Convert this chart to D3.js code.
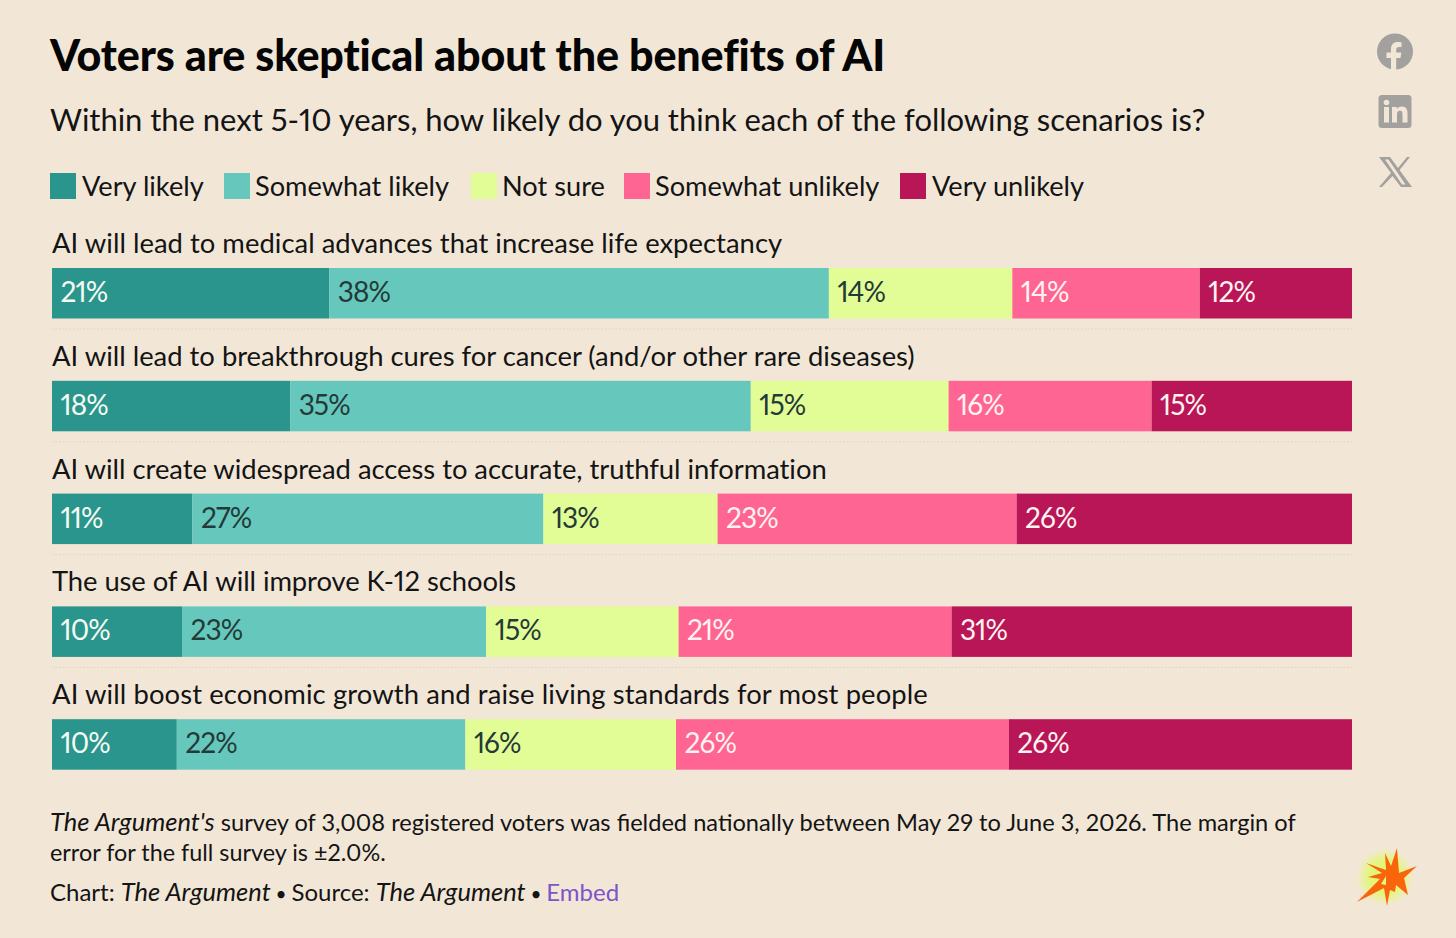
<!DOCTYPE html>
<html><head><meta charset="utf-8">
<script src="https://cdn.jsdelivr.net/npm/d3@7"></script>
<style>
html,body{margin:0;padding:0;background:#f2e7d7;overflow:hidden}
text{font-family:Lato,sans-serif;fill:#141414;font-variant-numeric:proportional-nums;font-feature-settings:"pnum" 1}
</style></head><body><svg id="c" width="1456" height="938"></svg>
<script>
const categories=["Very likely","Somewhat likely","Not sure","Somewhat unlikely","Very unlikely"];
const colors=["#2a958c","#66c8bc","#e3fd96","#ff6592","#b81657"];
const labelColors=["#f6fbf4","#243a38","#243a38","#fff3f0","#fff3f0"];
const questions=[
"AI will lead to medical advances that increase life expectancy",
"AI will lead to breakthrough cures for cancer (and/or other rare diseases)",
"AI will create widespread access to accurate, truthful information",
"The use of AI will improve K-12 schools",
"AI will boost economic growth and raise living standards for most people"];
const veryLikely=[21.3,18.3,10.8,10.0,9.6];
const somewhatLikely=[38.4,35.4,27.0,23.4,22.2];
const notSure=[14.1,15.2,13.4,14.8,16.2];
const somewhatUnlikely=[14.4,15.6,23.0,21.0,25.6];
const veryUnlikely=[11.7,15.4,25.8,30.8,26.4];
const series=[veryLikely,somewhatLikely,notSure,somewhatUnlikely,veryUnlikely];

const svg=d3.select("#c");
const x=d3.scaleLinear().domain([0,100]).range([52,1352]);
const step=112.8;
const rowTop=i=>268+i*step;

svg.append("text").attr("x",50).attr("y",71).attr("font-size",43).attr("font-weight",900)
 .attr("letter-spacing",-0.12).style("fill","#050505").text("Voters are skeptical about the benefits of AI");
svg.append("text").attr("x",50).attr("y",131).attr("font-size",31).attr("letter-spacing",-0.035).text("Within the next 5-10 years, how likely do you think each of the following scenarios is?");

const legX=[50,224,471,624,900];
const legTextX=[82,255,502,655,932];
const lg=svg.append("g").selectAll("g").data(categories).join("g");
lg.append("rect").attr("x",(d,i)=>legX[i]).attr("y",173).attr("width",26).attr("height",26).attr("fill",(d,i)=>colors[i]);
lg.append("text").attr("x",(d,i)=>legTextX[i]).attr("y",196).attr("font-size",27.2).text(d=>d);

const rowSpacing=[0.03,0,-0.03,-0.08,0.1];
const row=svg.append("g").selectAll("g").data(questions).join("g");
row.append("text").attr("x",52).attr("y",(d,i)=>rowTop(i)-15).attr("font-size",27.4).attr("letter-spacing",(d,i)=>rowSpacing[i]).text(d=>d);
row.each(function(q,i){
  const g=d3.select(this);let cum=0;
  const total=d3.sum(series,s=>s[i]);
  series.forEach((s,k)=>{
    const v=s[i]/total*100;
    const x0=x(cum),x1=x(cum+v);
    g.append("rect").attr("x",x0).attr("y",rowTop(i)).attr("width",x1-x0).attr("height",50.5).attr("fill",colors[k]);
    g.append("text").attr("x",x0+8.5).attr("y",rowTop(i)+34).attr("font-size",28).attr("letter-spacing",-0.9)
      .style("fill",labelColors[k]).text(d3.format(".0f")(s[i])+"%");
    cum+=v;
  });
  if(i<questions.length-1)
    g.append("line").attr("x1",52).attr("x2",1352).attr("y1",rowTop(i)+61).attr("y2",rowTop(i)+61)
     .attr("stroke","#dcd3c6").attr("stroke-width",1).attr("stroke-dasharray","1.5 2");
});

const fn=svg.append("g");
const l1=fn.append("text").attr("x",50).attr("y",831);
l1.append("tspan").attr("font-style","italic").attr("font-size",25.5).text("The Argument's");
l1.append("tspan").attr("font-size",23.62).text(" survey of 3,008 registered voters was fielded nationally between May 29 to June 3, 2026. The margin of");
fn.append("text").attr("x",50).attr("y",861).attr("font-size",23.4).text("error for the full survey is ±2.0%.");
const l2=fn.append("text").attr("x",50).attr("y",901).attr("font-size",24);
l2.append("tspan").text("Chart: ");
l2.append("tspan").attr("font-style","italic").attr("font-size",25.5).text("The Argument");
l2.append("tspan").attr("font-size",19).text(" • ");
l2.append("tspan").text("Source: ");
l2.append("tspan").attr("font-style","italic").attr("font-size",25.5).text("The Argument");
l2.append("tspan").attr("font-size",19).text(" • ");
l2.append("tspan").style("fill","#7c55c7").text("Embed");

// share icons
const ic="#a3a19d", bg="#f2e7d7";
svg.append("circle").attr("cx",1395).attr("cy",51.5).attr("r",18).attr("fill",ic);
svg.append("path").attr("fill",bg).attr("d","M1391 70V58h-4.5v-5.5h4.500v-3.500c0-4.500 2.700-7 6.800-7 2 0 3.700.3 3.700.3v4.600h-2.300c-2.300 0-3 1.400-3 2.900v2.700h5.100l-.8 5.500h-4.300v12z");
svg.append("rect").attr("x",1378.500).attr("y",95).attr("width",33).attr("height",33).attr("rx",3.500).attr("fill",ic);
svg.append("g").attr("fill",bg).call(g=>{
 g.append("rect").attr("x",1384).attr("y",107).attr("width",5).attr("height",15.500);
 g.append("circle").attr("cx",1386.500).attr("cy",102.500).attr("r",2.800);
 g.append("path").attr("d","M1392 107h4.800v2.200c.8-1.400 2.500-2.600 5-2.600 4.600 0 5.700 3 5.700 7v8.900h-5v-7.900c0-1.900-.2-3.900-2.600-3.900-2.400 0-2.900 1.800-2.900 3.800v8h-5z");
});
svg.append("path").attr("fill",ic).attr("fill-rule","evenodd").attr("d","M1379 157L1390 157L1398 168L1407 157L1410 157L1399.500 170L1412 187L1401 187L1392.500 176L1382 187L1379 187L1391 173ZM1385 159.500L1388.500 159.500L1405.500 184.500L1402 184.500Z");

// burst
const defs=svg.append("defs");
const rg=defs.append("radialGradient").attr("id","glow");
rg.append("stop").attr("offset","0%").attr("stop-color","#e4f67a");
rg.append("stop").attr("offset","55%").attr("stop-color","#e4f67a");
rg.append("stop").attr("offset","100%").attr("stop-color","#e4f67a").attr("stop-opacity",0);
svg.append("circle").attr("cx",1385).attr("cy",877).attr("r",29).attr("fill","url(#glow)");
svg.append("path").attr("fill","#f8650a").attr("d","M1357 902L1380 879L1368 877L1382 873L1366 863L1386 870L1385 853L1391 866L1397 848L1399 873L1417 866L1404 878L1408 895L1396 885L1395 892L1390 890L1387 906L1384 888Z");
svg.append("path").attr("fill","#e4f67a").attr("d","M1381 884L1386 876L1386 885Z");
</script></body></html>
